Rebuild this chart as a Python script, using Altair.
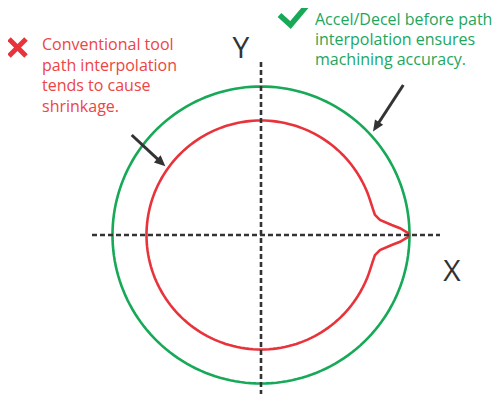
import altair as alt
import numpy as np
import pandas as pd

# ---- values (pixel units, origin at the axes crossing) ----
outer_radius = 148.5
inner_radius = 114.5
bump_angles = [0.0, 0.7, 2.8, 4.4, 7.2, 10.0, 13.0, 18.0]
bump_radii = [148.5, 147.3, 139.2, 131.1, 119.9, 115.7, 114.9, 114.5]

red_lines = ["Conventional tool", "path  interpolation", "tends to cause", "shrinkage."]
green_lines = ["Accel/Decel before path", "interpolation ensures", "machining accuracy."]
axis_names = ["X", "Y"]

RED = "#e8333b"
GREEN = "#17a957"
RED_TXT = "#ee4444"
GREEN_TXT = "#22a65e"
DARK = "#333333"

W, H = 487, 386
CX, CY = 261, 235  # reference pixel of origin


def px(x):
    return x - CX


def py(y):
    return CY - y


xs = alt.Scale(domain=[8 - CX, 8 + W - CX], nice=False, zero=False)
ys = alt.Scale(domain=[CY - 8 - H, CY - 8], nice=False, zero=False)

# outer (green) circle
ang = np.arange(0, 361, 2.0)
green_df = pd.DataFrame({
    "x": outer_radius * np.cos(np.radians(ang)),
    "y": outer_radius * np.sin(np.radians(ang)),
    "o": np.arange(len(ang)),
})

# inner (red) path with cusp at angle 0
pts = list(zip(bump_angles, bump_radii))
pts += [(a, inner_radius) for a in np.arange(20, 341, 2.0)]
pts += [(360 - a, r) for a, r in reversed(list(zip(bump_angles, bump_radii)))]
red_df = pd.DataFrame({
    "x": [r * np.cos(np.radians(a)) for a, r in pts],
    "y": [r * np.sin(np.radians(a)) for a, r in pts],
    "o": range(len(pts)),
})


def X(f="x"):
    return alt.X(f + ":Q", scale=xs, axis=None)


def Y(f="y"):
    return alt.Y(f + ":Q", scale=ys, axis=None)


green = alt.Chart(green_df).mark_line(color=GREEN, strokeWidth=2.6).encode(x=X(), y=Y(), order="o:Q")
red = alt.Chart(red_df).mark_line(color=RED, strokeWidth=2.6).encode(x=X(), y=Y(), order="o:Q")

# dashed axes
axes_df = pd.DataFrame({
    "x": [px(92), 0], "x2": [px(440), 0],
    "y": [0, py(62)], "y2": [0, py(406)],
})
axes = alt.Chart(axes_df).mark_rule(color=DARK, strokeWidth=2.6, strokeDash=[5, 3]).encode(
    x=X(), x2="x2:Q", y=Y(), y2="y2:Q")

# axis names
names_df = pd.DataFrame({"t": axis_names, "x": [px(452), px(241)], "y": [py(280.5), py(58)]})
names = alt.Chart(names_df).mark_text(font="Open Sans", fontSize=30, color=DARK, align="center",
                                      baseline="alphabetic").encode(x=X(), y=Y(), text="t:N")

# annotation texts
red_df_t = pd.DataFrame({"t": red_lines, "x": px(42), "y": [py(b) for b in [50, 70.5, 91, 111.5]]})
green_df_t = pd.DataFrame({"t": green_lines, "x": px(315), "y": [py(b) for b in [24.5, 44.5, 64.5]]})
red_txt = alt.Chart(red_df_t).mark_text(font="Open Sans", fontSize=16, color=RED_TXT, align="left",
                                        baseline="alphabetic").encode(x=X(), y=Y(), text="t:N")
green_txt = alt.Chart(green_df_t).mark_text(font="Open Sans", fontSize=16, color=GREEN_TXT, align="left",
                                            baseline="alphabetic").encode(x=X(), y=Y(), text="t:N")

# red cross
cross_df = pd.DataFrame({"x": [px(9), px(9)], "x2": [px(26), px(26)],
                         "y": [py(39), py(56)], "y2": [py(56), py(39)]})
cross = alt.Chart(cross_df).mark_rule(color=RED, strokeWidth=5).encode(x=X(), x2="x2:Q", y=Y(), y2="y2:Q")

# green check
check_df = pd.DataFrame({"x": [px(279.5), px(290.5), px(306.5)], "y": [py(15), py(25), py(6)], "o": [0, 1, 2]})
check = alt.Chart(check_df).mark_line(color=GREEN, strokeWidth=5.5, strokeJoin="miter").encode(
    x=X(), y=Y(), order="o:Q")

# arrows
starts = [(131.7, 135), (403.3, 85)]
tips = [(165, 166), (373.3, 131)]
rows = []
for (sx, sy), (tx, ty) in zip(starts, tips):
    dx, dy = tx - sx, ty - sy
    L = np.hypot(dx, dy)
    ux, uy = dx / L, dy / L
    cxh, cyh = tx - 6 * ux, ty - 6 * uy
    angle = float(np.degrees(np.arctan2(ux, -uy))) % 360
    rows.append({"x": px(sx), "y": py(sy), "x2": px(cxh), "y2": py(cyh),
                 "hx": px(cxh), "hy": py(cyh), "a": angle})
arr_df = pd.DataFrame(rows)
shafts = alt.Chart(arr_df).mark_rule(color=DARK, strokeWidth=3).encode(x=X(), x2="x2:Q", y=Y(), y2="y2:Q")
heads = alt.Chart(arr_df).mark_point(shape="M0,-1L0.75,0.7L-0.75,0.7Z", filled=True, opacity=1,
                                     color=DARK, size=170, strokeWidth=0).encode(
    x=X("hx"), y=Y("hy"), angle=alt.Angle("a:Q", scale=None))

chart = alt.layer(green, red, axes, names, red_txt, green_txt, cross, check, shafts, heads).properties(
    width=W, height=H, padding=0, autosize="none", background="white"
).configure_view(stroke=None)

chart.save("out.html", embed_options={"renderer": "svg", "actions": False})
